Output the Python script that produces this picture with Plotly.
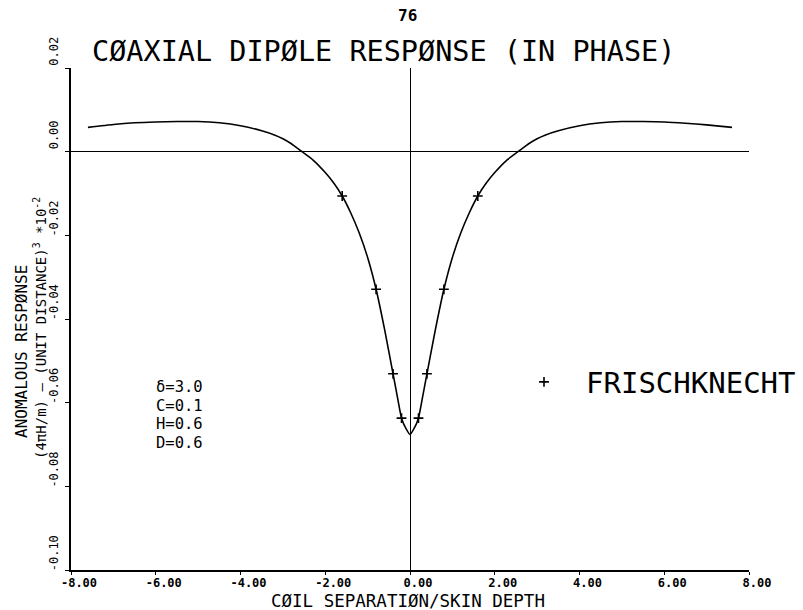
import plotly.graph_objects as go

# ---- data ----
curve_x = [-7.6, -7.0, -6.5, -6.0, -5.5, -5.0, -4.5, -4.0, -3.5, -3.2, -3.0, -2.8, -2.55,
           -2.3, -2.0, -1.8, -1.6, -1.4, -1.2, -1.0, -0.8, -0.6, -0.4, -0.3, -0.2, -0.1, 0.0,
           0.1, 0.2, 0.3, 0.4, 0.6, 0.8, 1.0, 1.2, 1.4, 1.6, 1.8, 2.0, 2.3,
           2.55, 2.8, 3.0, 3.2, 3.5, 4.0, 4.5, 5.0, 5.5, 6.0, 6.5, 7.0, 7.6]
curve_y = [0.0058, 0.0065, 0.0069, 0.0071, 0.0072, 0.0072, 0.0069, 0.0062, 0.0050, 0.0040, 0.0031, 0.0019, 0.0,
           -0.0019, -0.0050, -0.0075, -0.0106, -0.0146, -0.0194, -0.0253, -0.0329, -0.0425, -0.0531, -0.0585, -0.0637, -0.0661, -0.0676,
           -0.0661, -0.0637, -0.0585, -0.0531, -0.0425, -0.0329, -0.0253, -0.0194, -0.0146, -0.0106, -0.0075, -0.0050, -0.0019,
           0.0, 0.0019, 0.0031, 0.0040, 0.0050, 0.0062, 0.0069, 0.0072, 0.0072, 0.0071, 0.0068, 0.0064, 0.0058]

frisch_x = [-1.6, -0.8, -0.4, -0.2, 0.2, 0.4, 0.8, 1.6]
frisch_y = [-0.0106, -0.0329, -0.0531, -0.0637, -0.0637, -0.0531, -0.0329, -0.0106]

x_ticks = [-8, -6, -4, -2, 0, 2, 4, 6, 8]
x_tick_text = ["-8.00", "-6.00", "-4.00", "-2.00", "0.00", "2.00", "4.00", "6.00", "8.00"]
y_ticks = [0.02, 0.0, -0.02, -0.04, -0.06, -0.08, -0.10]
y_tick_text = ["0.02", "0.00", "-0.02", "-0.04", "-0.06", "-0.08", "-0.10"]

params = ["δ=3.0", "C=0.1", "H=0.6", "D=0.6"]

title_text = "CØAXIAL DIPØLE RESPØNSE (IN PHASE)"
x_title = "CØIL SEPARATIØN/SKIN DEPTH"
y_title_1 = "ANOMALOUS RESPØNSE"
y_title_2 = "(4πH/m) – (UNIT DISTANCE)<sup>3</sup> *10<sup>-2</sup>"
page_no = "76"

MONO = "DejaVu Sans Mono"

# ---- layout geometry ----
W, H = 803, 610
L, R, T, B = 71, 54, 68, 40
PW, PH = W - L - R, H - T - B


def px(xp):
    return (xp - L) / PW


def py(yp):
    return (H - B - yp) / PH


fig = go.Figure()
fig.add_trace(go.Scatter(
    x=curve_x, y=curve_y, mode="lines",
    line=dict(color="black", width=1.6, shape="spline", smoothing=0.5),
    showlegend=False, hoverinfo="skip"))
fig.add_trace(go.Scatter(
    x=frisch_x, y=frisch_y, mode="markers", name="FRISCHKNECHT",
    marker=dict(symbol="cross-thin", size=7, line=dict(color="black", width=1.6), color="black"),
    showlegend=True))


def note(text, x, y, size, xanchor="center", angle=0, weight="normal"):
    return dict(text=text, x=px(x), y=py(y), xref="paper", yref="paper",
                xanchor=xanchor, yanchor="middle", textangle=angle, showarrow=False,
                font=dict(family=MONO, size=size, color="black", weight=weight))


ann = [
    note(page_no, 407, 15, 16, weight="bold"),
    note(title_text, 383, 51, 28.5),
    note(x_title, 408, 601, 17.5),
    note(y_title_1, 22, 352, 16, angle=-90),
    note(y_title_2, 40, 328, 14, angle=-90),
]
for i, t in enumerate(params):
    ann.append(note(t, 154, 387 + 18.5 * i, 15.5, xanchor="left"))

fig.update_layout(
    width=W, height=H,
    margin=dict(l=L, r=R, t=T, b=B, autoexpand=False),
    paper_bgcolor="white", plot_bgcolor="white",
    annotations=ann,
    legend=dict(x=px(502), y=py(382), xanchor="left", yanchor="middle",
                font=dict(family=MONO, size=29, color="black"),
                bgcolor="rgba(0,0,0,0)", itemwidth=74),
    xaxis=dict(range=[-8, 8], tickvals=x_ticks, ticktext=x_tick_text,
               showgrid=False, zeroline=True, zerolinecolor="black", zerolinewidth=1.2,
               showline=True, linecolor="black", linewidth=1.5,
               ticks="outside", ticklen=3, tickcolor="black",
               ticklabelshift=8, ticklabelstandoff=-2,
               tickfont=dict(family=MONO, size=12, color="black", weight="bold")),
    yaxis=dict(range=[-0.10, 0.02], tickvals=y_ticks, ticktext=y_tick_text,
               showgrid=False, zeroline=True, zerolinecolor="black", zerolinewidth=1.2,
               showline=True, linecolor="black", linewidth=1.5,
               ticks="outside", ticklen=4, tickcolor="black", tickangle=-90,
               ticklabelshift=-15, ticklabelstandoff=2,
               tickfont=dict(family=MONO, size=12, color="black")),
)

fig.write_html("out.html")
